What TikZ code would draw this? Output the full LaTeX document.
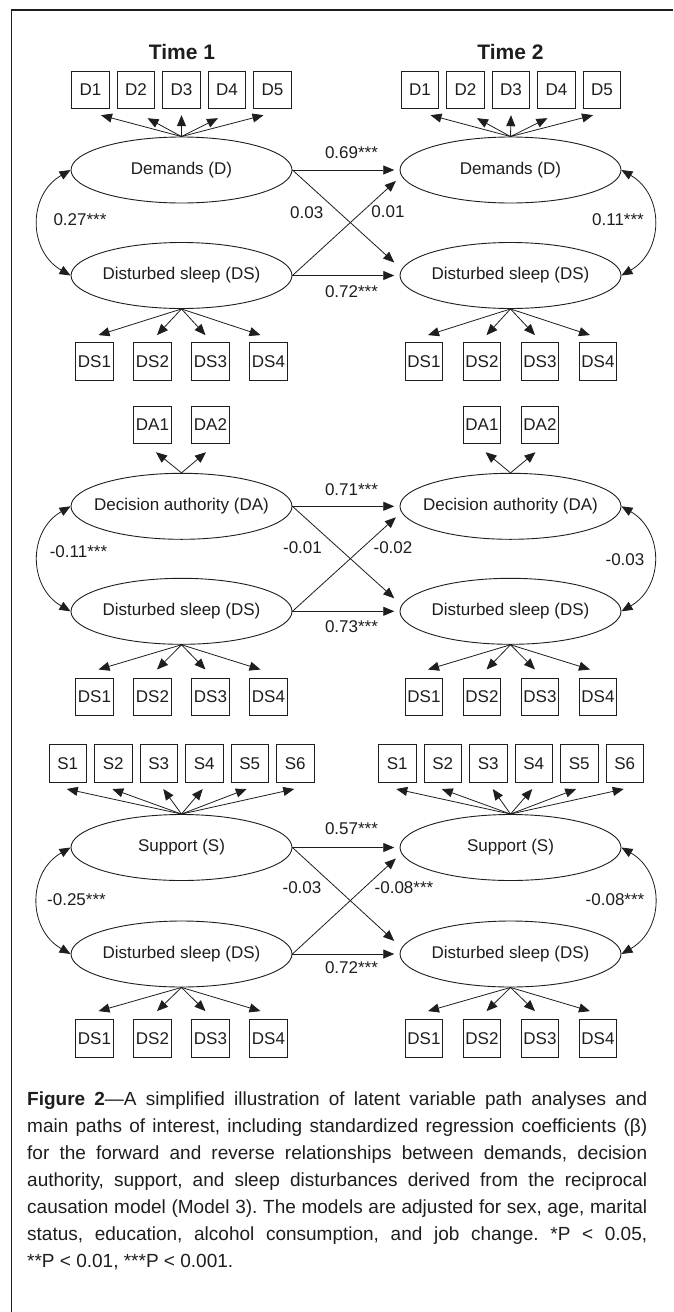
\documentclass[tikz,border=0pt]{standalone}
\usepackage{fontspec}
\setmainfont{Liberation Sans}
\usetikzlibrary{arrows.meta,calc,shapes.geometric}
\definecolor{ink}{RGB}{30,30,30}
\newcommand\latentlabel[1]{\makebox[0pt]{#1}}
\frenchspacing
\begin{document}
\begin{tikzpicture}[x=1pt,y=-1pt,
  lbl/.style={font=\fontsize{17}{20}\selectfont, inner sep=0pt, text=ink},
  ind/.style={draw=ink, line width=0.9pt, minimum width=37.5pt, minimum height=37.5pt,
              inner sep=0pt, font=\fontsize{17}{20}\selectfont, text=ink},
  lat/.style={ellipse, draw=ink, line width=0.9pt, minimum width=221pt, minimum height=66pt,
              inner sep=0pt, font=\fontsize{17}{20}\selectfont, text=ink},
  arr/.style={draw=ink, line width=0.8pt, -{Triangle[length=11pt,width=9pt]}},
  cov/.style={draw=ink, line width=0.8pt,
              {Triangle[length=11pt,width=9pt]}-{Triangle[length=11pt,width=9pt]}},
  ttl/.style={font=\fontsize{21}{24}\selectfont\bfseries, inner sep=0pt, text=ink},
]
\useasboundingbox (0,0) rectangle (673,1312);
\fill[white] (0,0) rectangle (673,1312);

% frame
\coordinate (fr1) at (11.5,1312);
\coordinate (fr2) at (11.5,10);
\coordinate (fr3) at (673,10);
\draw[ink, line width=1.6pt] (fr1) -- (fr2) -- (fr3);

% column headings
\node[ttl] (t1) at (182,52) {Time 1};
\node[ttl] (t2) at (510.5,52) {Time 2};

% ---------------- Demands block ----------------
\node[lat] (aD)  at (181.5,170)   {\latentlabel{Demands (D)}};
\node[lat] (aS)  at (181.5,275.5) {\latentlabel{Disturbed sleep (DS)}};
\node[lat] (bD)  at (510.5,170)   {\latentlabel{Demands (D)}};
\node[lat] (bS)  at (510.5,275.5) {\latentlabel{Disturbed sleep (DS)}};

\foreach \i/\x in {1/90.5,2/136,3/181.5,4/227,5/272.5}
  \node[ind] (aDi\i) at (\x,90) {D\i};
\foreach \i/\x in {1/420,2/465.5,3/511,4/556.5,5/602}
  \node[ind] (bDi\i) at (\x,90) {D\i};
\foreach \i/\x in {1/94.5,2/152.5,3/210.5,4/268.5}
  \node[ind] (aSi\i) at (\x,361.3) {DS\i};
\foreach \i/\x in {1/424,2/482,3/540,4/598}
  \node[ind] (bSi\i) at (\x,361.3) {DS\i};

\foreach \i/\dx/\dy in {1/10.5/6,2/11.5/9,3/0/6,4/-9/9,5/-9/6}{
  \draw[arr] (aD.north) -- ($(aDi\i.south)+(\dx,\dy)$);
  \draw[arr] (bD.north) -- ($(bDi\i.south)+(\dx,\dy)$);
}
\foreach \i/\dx in {1/4,2/4.5,3/-5,4/-8}{
  \draw[arr] (aS.south) -- ($(aSi\i.north)+(\dx,-7)$);
  \draw[arr] (bS.south) -- ($(bSi\i.north)+(\dx,-7)$);
}

\draw[arr] (aD.east) -- ($(bD.west)+(-5.3,0)$);
\draw[arr] (aS.east) -- ($(bS.west)+(-5.3,0)$);
\draw[arr] (aD.east) -- ($(bS.west)+(-5.3,-13)$);
\draw[arr] (aS.east) -- ($(bD.west)+(-3.7,11)$);
\draw[cov] (aD.west) to[bend right=60, looseness=1.2] (aS.west);
\draw[cov] (bD.east) to[bend left=60, looseness=1.2] (bS.east);

\node[lbl] (c1a) at (351.5,153)   {0.69***};
\node[lbl] (c1b) at (306.7,213)   {0.03};
\node[lbl] (c1c) at (388,211.7)   {0.01};
\node[lbl] (c1d) at (351.5,291.7) {0.72***};
\node[lbl] (c1e) at (80,220)      {0.27***};
\node[lbl] (c1f) at (618,220)     {0.11***};

% ---------------- Decision authority block ----------------
\node[lat] (aA)  at (181.5,506.3) {\latentlabel{Decision authority (DA)}};
\node[lat] (aT)  at (181.5,611.3) {\latentlabel{Disturbed sleep (DS)}};
\node[lat] (bA)  at (510.5,506.3) {\latentlabel{Decision authority (DA)}};
\node[lat] (bT)  at (510.5,611.3) {\latentlabel{Disturbed sleep (DS)}};

\foreach \i/\x in {1/152.5,2/210.5}
  \node[ind] (aAi\i) at (\x,425) {DA\i};
\foreach \i/\x in {1/482,2/540}
  \node[ind] (bAi\i) at (\x,425) {DA\i};
\foreach \i/\x in {1/94.5,2/152.5,3/210.5,4/268.5}
  \node[ind] (aTi\i) at (\x,696.7) {DS\i};
\foreach \i/\x in {1/424,2/482,3/540,4/598}
  \node[ind] (bTi\i) at (\x,696.7) {DS\i};

\foreach \i/\dx in {1/3.5,2/-4.5}{
  \draw[arr] (aA.north) -- ($(aAi\i.south)+(\dx,8)$);
  \draw[arr] (bA.north) -- ($(bAi\i.south)+(\dx,8)$);
}
\foreach \i/\dx in {1/4,2/4.5,3/-5,4/-8}{
  \draw[arr] (aT.south) -- ($(aTi\i.north)+(\dx,-8)$);
  \draw[arr] (bT.south) -- ($(bTi\i.north)+(\dx,-8)$);
}

\draw[arr] (aA.east) -- ($(bA.west)+(-5.3,0)$);
\draw[arr] (aT.east) -- ($(bT.west)+(-5.3,0)$);
\draw[arr] (aA.east) -- ($(bT.west)+(-5.3,-13)$);
\draw[arr] (aT.east) -- ($(bA.west)+(-3.7,11)$);
\draw[cov] (aA.west) to[bend right=60, looseness=1.2] (aT.west);
\draw[cov] (bA.east) to[bend left=60, looseness=1.2] (bT.east);

\node[lbl] (c2a) at (351.5,490)   {0.71***};
\node[lbl] (c2b) at (302.5,548)   {-0.01};
\node[lbl] (c2c) at (393,548)     {-0.02};
\node[lbl] (c2d) at (351.5,627)   {0.73***};
\node[lbl] (c2e) at (78.5,551.7)  {-0.11***};
\node[lbl] (c2f) at (625,560)     {-0.03};

% ---------------- Support block ----------------
\node[lat] (aP)  at (181.5,847.5) {\latentlabel{Support (S)}};
\node[lat] (aU)  at (181.5,954)   {\latentlabel{Disturbed sleep (DS)}};
\node[lat] (bP)  at (510.5,847.5) {\latentlabel{Support (S)}};
\node[lat] (bU)  at (510.5,954)   {\latentlabel{Disturbed sleep (DS)}};

\foreach \i/\x in {1/67.75,2/113.25,3/158.75,4/204.25,5/249.75,6/295.25}
  \node[ind] (aPi\i) at (\x,763.3) {S\i};
\foreach \i/\x in {1/397.25,2/442.75,3/488.25,4/533.75,5/579.25,6/624.75}
  \node[ind] (bPi\i) at (\x,763.3) {S\i};
\foreach \i/\x in {1/94.5,2/152.5,3/210.5,4/268.5}
  \node[ind] (aUi\i) at (\x,1038.3) {DS\i};
\foreach \i/\x in {1/424,2/482,3/540,4/598}
  \node[ind] (bUi\i) at (\x,1038.3) {DS\i};

\foreach \i/\dx in {1/-1,2/-1,3/4.5,4/-1.5,5/-3,6/-1}{
  \draw[arr] (aP.north) -- ($(aPi\i.south)+(\dx,6.5)$);
  \draw[arr] (bP.north) -- ($(bPi\i.south)+(\dx,6.5)$);
}
\foreach \i/\dx in {1/4,2/4.5,3/-5,4/-8}{
  \draw[arr] (aU.south) -- ($(aUi\i.north)+(\dx,-8)$);
  \draw[arr] (bU.south) -- ($(bUi\i.north)+(\dx,-8)$);
}

\draw[arr] (aP.east) -- ($(bP.west)+(-5.3,0)$);
\draw[arr] (aU.east) -- ($(bU.west)+(-5.3,0)$);
\draw[arr] (aP.east) -- ($(bU.west)+(-5.3,-13)$);
\draw[arr] (aU.east) -- ($(bP.west)+(-3.7,11)$);
\draw[cov] (aP.west) to[bend right=60, looseness=1.2] (aU.west);
\draw[cov] (bP.east) to[bend left=60, looseness=1.2] (bU.east);

\node[lbl] (c3a) at (351.5,829)   {0.57***};
\node[lbl] (c3b) at (302,888)     {-0.03};
\node[lbl] (c3c) at (404,888)     {-0.08***};
\node[lbl] (c3d) at (351.5,968)   {0.72***};
\node[lbl] (c3e) at (76.5,900)    {-0.25***};
\node[lbl] (c3f) at (615,900)     {-0.08***};

% ---------------- caption ----------------
\node[anchor=north west, inner sep=0pt, align=left, text=ink,
      font=\fontsize{19}{27}\selectfont] (cap) at (27,1092) {%
\makebox[620pt][s]{\textbf{Figure 2}—A simplified illustration of latent variable path analyses and}\\
\makebox[620pt][s]{main paths of interest, including standardized regression coefficients (β)}\\
\makebox[620pt][s]{for the forward and reverse relationships between demands, decision}\\
\makebox[620pt][s]{authority, support, and sleep disturbances derived from the reciprocal}\\
\makebox[620pt][s]{causation model (Model 3). The models are adjusted for sex, age, marital}\\
\makebox[620pt][s]{status, education, alcohol consumption, and job change. *P < 0.05,}\\
**P < 0.01, ***P < 0.001.};
\end{tikzpicture}
\end{document}
